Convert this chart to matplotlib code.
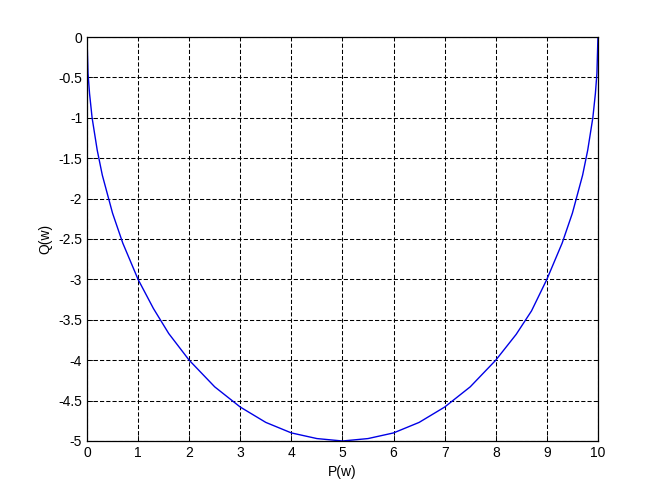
import numpy as np
import matplotlib.pyplot as plt

# values
p_vals = [0, 0.02, 0.05, 0.1, 0.2, 0.3, 0.5, 0.7, 1.0, 1.3, 1.6, 2.0, 2.5, 3.0, 3.5, 4.0, 4.5, 5.0,
          5.5, 6.0, 6.5, 7.0, 7.5, 8.0, 8.4, 8.7, 9.0, 9.3, 9.5, 9.7, 9.8, 9.9, 9.95, 9.98, 10]
q_vals = [0, -0.45, -0.7, -1.0, -1.4, -1.71, -2.18, -2.55, -3.0, -3.36, -3.67, -4.0, -4.33, -4.58, -4.77, -4.9, -4.97, -5.0,
          -4.97, -4.9, -4.77, -4.58, -4.33, -4.0, -3.68, -3.39, -3.0, -2.55, -2.18, -1.71, -1.4, -1.0, -0.7, -0.45, 0]

xticks = np.arange(0, 11, 1)
yticks = np.arange(-5, 0.5, 0.5)

plt.rcParams['font.family'] = ['Liberation Sans', 'DejaVu Sans']

fig = plt.figure(figsize=(6.61, 4.96), dpi=100)
ax = fig.add_axes([0.1316, 0.1109, 0.773, 0.8145])
ax.plot(p_vals, q_vals, color='#0000e6', linewidth=1.0)

ax.set_xlim(0, 10)
ax.set_ylim(-5, 0)
ax.set_xticks(xticks)
ax.set_yticks(yticks)
ax.set_xticklabels([f'{t:g}' for t in xticks])
ax.set_yticklabels([f'{t:g}' for t in yticks])
ax.tick_params(direction='in', length=4, labelsize=10, width=0.6)
ax.grid(True, color='black', linestyle=(0, (4, 2)), linewidth=0.75)
for s in ax.spines.values():
    s.set_linewidth(0.9)

ax.set_xlabel('P(w)', fontsize=10)
ax.set_ylabel('Q(w)', fontsize=10)

fig.savefig('out.png', dpi=100)
